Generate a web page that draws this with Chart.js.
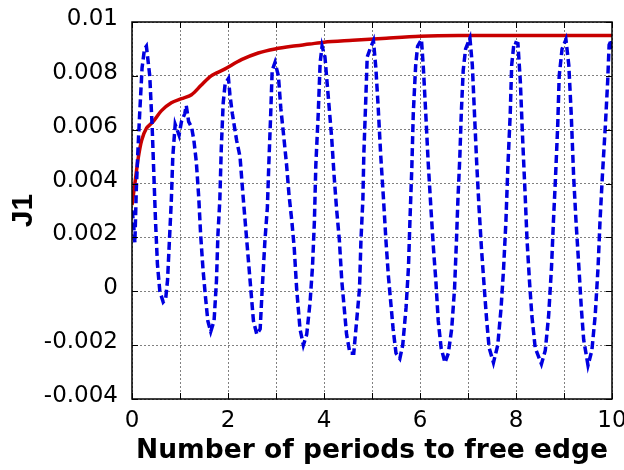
<!DOCTYPE html>
<html><head><meta charset="utf-8">
<script src="https://cdn.jsdelivr.net/npm/chart.js@4"></script>
<style>html,body{margin:0;padding:0;background:#fff}#note{position:absolute;left:0;top:0;font:11px monospace;background:#fff;color:#fff;white-space:pre}</style>
</head><body>
<canvas id="c" width="624" height="470"></canvas><div id="note"></div>
<script>
const note = m => { document.getElementById('note').textContent = m; };
// Blue dashed series (x = number of periods, y = J1)
const blueX = [0.00,0.03,0.06,0.09,0.12,0.16,0.21,0.26,0.30,0.37,0.42,0.46,0.49,0.53,0.58,0.65,0.70,0.74,0.78,0.82,0.85,0.90,0.94,0.98,1.03,1.10,1.13,1.18,1.24,1.29,1.34,1.39,1.43,1.48,1.53,1.58,1.64,1.71,1.76,1.79,1.83,1.86,1.90,1.94,2.01,2.04,2.09,2.18,2.25,2.32,2.39,2.46,2.53,2.60,2.67,2.71,2.77,2.82,2.85,2.89,2.92,2.98,3.05,3.10,3.17,3.22,3.27,3.33,3.38,3.43,3.50,3.57,3.64,3.71,3.76,3.80,3.83,3.88,3.92,3.96,4.02,4.09,4.16,4.21,4.26,4.32,4.37,4.42,4.47,4.54,4.62,4.68,4.74,4.77,4.81,4.83,4.87,4.90,4.96,5.03,5.08,5.13,5.18,5.24,5.29,5.34,5.39,5.44,5.50,5.58,5.64,5.71,5.76,5.79,5.83,5.86,5.91,5.95,6.03,6.07,6.12,6.17,6.23,6.28,6.33,6.38,6.44,6.52,6.59,6.66,6.72,6.76,6.79,6.83,6.86,6.90,6.95,7.04,7.09,7.13,7.18,7.23,7.28,7.34,7.39,7.44,7.53,7.62,7.69,7.74,7.79,7.83,7.88,7.91,7.96,8.04,8.09,8.14,8.19,8.23,8.28,8.33,8.40,8.53,8.61,8.68,8.74,8.78,8.82,8.87,8.90,8.96,9.04,9.10,9.15,9.20,9.25,9.31,9.36,9.41,9.50,9.58,9.65,9.71,9.75,9.80,9.86,9.91,9.94,9.99,10.00];
const blueY = [0.0030,0.0026,0.0018,0.0038,0.0051,0.0066,0.0083,0.0090,0.0091,0.0080,0.0061,0.0041,0.0026,0.0010,0.0000,-0.0004,-0.0003,0.0004,0.0019,0.0034,0.0050,0.0062,0.0060,0.0058,0.0063,0.0066,0.0069,0.0063,0.0061,0.0056,0.0048,0.0035,0.0021,0.0008,-0.0002,-0.0011,-0.0015,-0.0011,0.0004,0.0021,0.0034,0.0053,0.0070,0.0077,0.0079,0.0073,0.0066,0.0056,0.0050,0.0034,0.0019,0.0004,-0.0011,-0.0016,-0.0014,0.0000,0.0019,0.0031,0.0047,0.0066,0.0082,0.0085,0.0080,0.0068,0.0056,0.0047,0.0036,0.0026,0.0016,0.0001,-0.0014,-0.0020,-0.0016,-0.0004,0.0009,0.0026,0.0047,0.0066,0.0085,0.0091,0.0087,0.0072,0.0057,0.0043,0.0031,0.0019,0.0004,-0.0006,-0.0016,-0.0023,-0.0023,-0.0011,0.0001,0.0019,0.0034,0.0051,0.0071,0.0087,0.0090,0.0093,0.0083,0.0068,0.0051,0.0034,0.0019,0.0006,-0.0004,-0.0014,-0.0023,-0.0025,-0.0020,-0.0006,0.0009,0.0026,0.0046,0.0066,0.0084,0.0091,0.00935,0.0083,0.0066,0.0048,0.0030,0.0016,0.0004,-0.0011,-0.0021,-0.00265,-0.0023,-0.0014,0.0001,0.0019,0.0034,0.0050,0.0066,0.0082,0.0090,0.0094,0.0084,0.0068,0.0048,0.0031,0.0016,0.0001,-0.0011,-0.0021,-0.00265,-0.0020,-0.0006,0.0008,0.0026,0.0046,0.0066,0.0084,0.00925,0.0092,0.0078,0.0056,0.0036,0.0019,0.0004,-0.0009,-0.0021,-0.0027,-0.0022,-0.0009,0.0009,0.0026,0.0041,0.0062,0.0080,0.0090,0.00935,0.0084,0.0066,0.0043,0.0026,0.0009,-0.0006,-0.0018,-0.00275,-0.0022,-0.0009,0.0009,0.0026,0.0043,0.0061,0.0078,0.00915,0.00935,0.0089];
// Red solid series
const redX = [0.00,0.06,0.13,0.20,0.30,0.44,0.61,0.82,1.03,1.24,1.44,1.65,1.93,2.28,2.63,2.98,3.33,3.70,4.00,4.60,5.30,6.00,6.80,8.00,10.00];
const redY = [0.0032,0.0040,0.00495,0.0056,0.00605,0.0063,0.0067,0.0070,0.00715,0.0073,0.00765,0.0080,0.00825,0.0086,0.00885,0.0090,0.0091,0.00918,0.00925,0.00932,0.0094,0.00947,0.0095,0.0095,0.0095];
// Axis ticks
const xTickValues = [0,1,2,3,4,5,6,7,8,9,10];
const xTickLabels = ['0','','2','','4','','6','','8','','10'];
const yTickValues = [-0.004,-0.002,0,0.002,0.004,0.006,0.008,0.01];
const yTickLabels = ['-0.004','-0.002','0','0.002','0.004','0.006','0.008','0.01'];

const toPts = (xs, ys) => xs.map((x, i) => ({x: x, y: ys[i]}));

const frame = {
  id: 'frame',
  beforeDraw() { note(' '); },
  afterDatasetsDraw(chart) {
    const {ctx, chartArea: a} = chart;
    const sx = chart.scales.x, sy = chart.scales.y;
    ctx.save();
    ctx.setLineDash([]);
    ctx.strokeStyle = '#000';
    ctx.lineWidth = 1;
    for (const v of xTickValues) {
      const px = Math.round(sx.getPixelForValue(v)) + 0.5;
      ctx.beginPath(); ctx.moveTo(px, a.top); ctx.lineTo(px, a.top + 6); ctx.stroke();
      ctx.beginPath(); ctx.moveTo(px, a.bottom); ctx.lineTo(px, a.bottom - 6); ctx.stroke();
    }
    for (const v of yTickValues) {
      const py = Math.round(sy.getPixelForValue(v)) + 0.5;
      ctx.beginPath(); ctx.moveTo(a.left, py); ctx.lineTo(a.left + 6, py); ctx.stroke();
      ctx.beginPath(); ctx.moveTo(a.right, py); ctx.lineTo(a.right - 6, py); ctx.stroke();
    }
    ctx.lineWidth = 1.5;
    ctx.strokeRect(a.left, a.top, a.right - a.left, a.bottom - a.top);
    ctx.restore();
    note('  ');
  },
  afterDraw() { note('   '); }
};

new Chart(document.getElementById('c'), {
  type: 'scatter',
  data: {
    datasets: [
      {data: toPts(blueX, blueY), showLine: true, borderColor: '#0000e0', borderWidth: 3.5, borderDash: [8, 4], pointRadius: 0, tension: 0, order: 0, borderCapStyle: 'butt'},
      {data: toPts(redX, redY), showLine: true, borderColor: '#c80000', borderWidth: 3.5, pointRadius: 0, tension: 0.3, order: 1}
    ]
  },
  options: {
    responsive: false,
    animation: false,
    devicePixelRatio: 1,
    layout: {padding: {top: 22, right: 12, left: 0, bottom: 0}},
    plugins: {legend: {display: false}, tooltip: {enabled: false}},
    scales: {
      x: {
        type: 'linear', min: 0, max: 10,
        afterBuildTicks: s => { s.ticks = xTickValues.map(v => ({value: v})); },
        afterFit: s => { s.height = 71; s.paddingLeft = 0; s.paddingRight = 0; },
        ticks: {autoSkip: false, maxRotation: 0, padding: 8, color: '#000', font: {family: 'DejaVu Sans', size: 23},
          callback: (v, i) => xTickLabels[i]},
        grid: {color: '#808080', lineWidth: 1, drawTicks: false},
        border: {display: false, dash: [2, 2]},
        title: {display: true, text: 'Number of periods to free edge', color: '#000', font: {family: 'DejaVu Sans', size: 26.5, weight: 'bold'}, padding: {top: 0, bottom: 3}}
      },
      y: {
        type: 'linear', min: -0.004, max: 0.01,
        ticks: {stepSize: 0.002, padding: 14, labelOffset: -3, color: '#000', font: {family: 'DejaVu Sans', size: 23},
          callback: (v, i) => yTickLabels[i]},
        afterFit: s => { s.width = 132; s.paddingTop = 0; s.paddingBottom = 0; },
        grid: {color: '#808080', lineWidth: 1, drawTicks: false},
        border: {display: false, dash: [2, 2]},
        title: {display: true, text: 'J1', color: '#000', font: {family: 'Liberation Sans', size: 30, weight: 'bold'}, padding: {top: 6, bottom: 0}}
      }
    }
  },
  plugins: [frame]
});
note('    ');
</script>
</body></html>
